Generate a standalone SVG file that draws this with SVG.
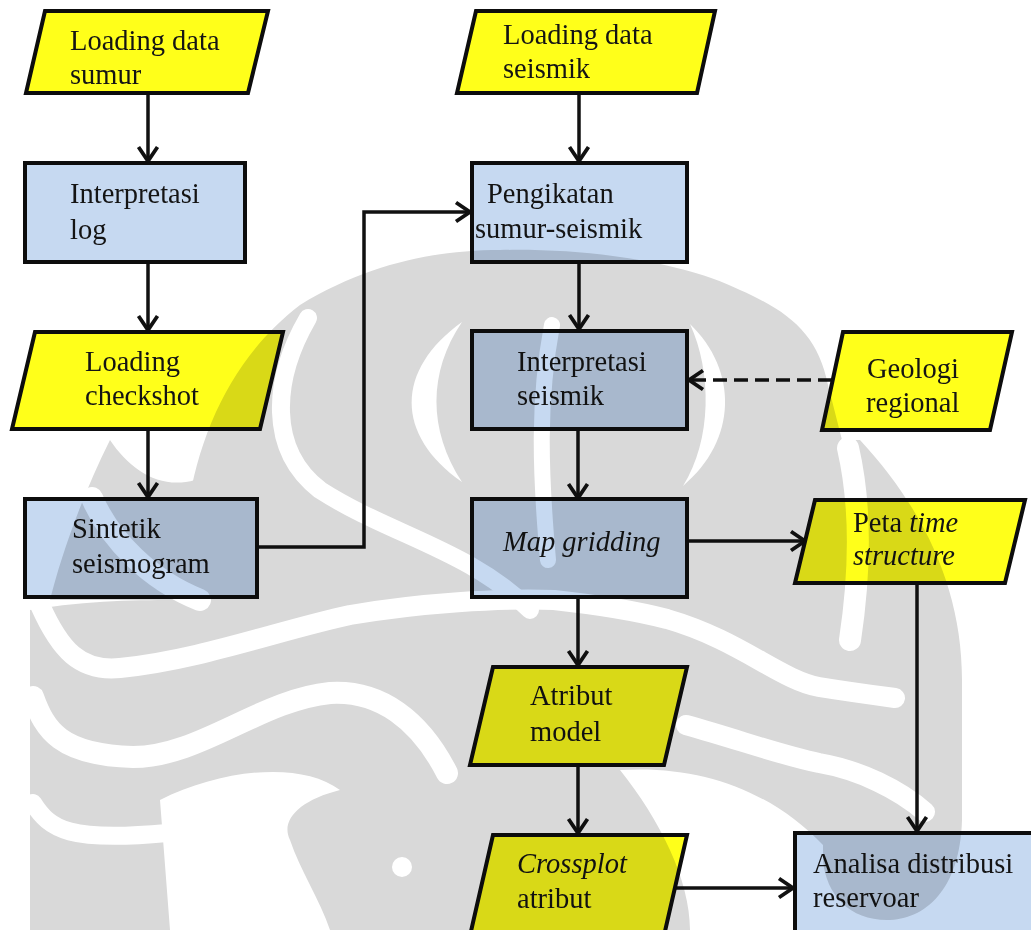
<svg xmlns="http://www.w3.org/2000/svg" width="1031" height="930" viewBox="0 0 1031 930">
<style>
.t{font-family:"Liberation Serif","Times New Roman",serif;font-size:28.5px;fill:#141414}
.it{font-style:italic}
.y{fill:#ffff1a;stroke:#0d0d0d;stroke-width:4;stroke-linejoin:miter}
.b{fill:#c6d9f1;stroke:#0d0d0d;stroke-width:4}
.c{fill:none;stroke:#111;stroke-width:3.5;marker-end:url(#ah)}
.d{stroke-dasharray:14 7}
.wg{fill:#d9d9d9}
.ww{fill:none;stroke:#fff;stroke-linecap:round}
</style>
<defs>
<marker id="ah" viewBox="-3 -3 22 25" markerWidth="22" markerHeight="25" refX="15" refY="9.5" orient="auto" markerUnits="userSpaceOnUse">
<path d="M1,0 L15,9.5 L1,19" fill="none" stroke="#111" stroke-width="3.8" stroke-linejoin="miter"/>
</marker>
</defs>
<rect width="1031" height="930" fill="#fff"/>

<g id="connectors">
<path class="c" d="M148,94 V161"/>
<path class="c" d="M148,262 V330"/>
<path class="c" d="M148,430 V497"/>
<path class="c" d="M257,547 H364 V212 H470"/>
<path class="c" d="M579,94 V161"/>
<path class="c" d="M579,262 V329"/>
<path class="c" d="M578,429 V498"/>
<path class="c" d="M687,541 H805"/>
<path class="c" d="M578,597 V665"/>
<path class="c" d="M578,765 V833"/>
<path class="c" d="M676,888 H793"/>
<path class="c" d="M917,583 V831"/>
<path class="c d" d="M832,380 H689"/>
</g>

<g id="n-loading-sumur">
<polygon class="y" points="45,11 268,11 248,93 26,93"/>
<text class="t" x="70" y="50">Loading data</text>
<text class="t" x="70" y="84">sumur</text>
</g>
<g id="n-interpretasi-log">
<rect class="b" x="25" y="163" width="220" height="99"/>
<text class="t" x="70" y="203">Interpretasi</text>
<text class="t" x="70" y="239">log</text>
</g>
<g id="n-loading-checkshot">
<polygon class="y" points="35,332 283,332 260,429 12,429"/>
<text class="t" x="85" y="371">Loading</text>
<text class="t" x="85" y="405">checkshot</text>
</g>
<g id="n-sintetik">
<rect class="b" x="25" y="499" width="232" height="98"/>
<text class="t" x="72" y="538">Sintetik</text>
<text class="t" x="72" y="573">seismogram</text>
</g>
<g id="n-loading-seismik">
<polygon class="y" points="476,11 715,11 697,93 457,93"/>
<text class="t" x="503" y="44">Loading data</text>
<text class="t" x="503" y="78">seismik</text>
</g>
<g id="n-pengikatan">
<rect class="b" x="472" y="163" width="215" height="99"/>
<text class="t" x="487" y="203">Pengikatan</text>
<text class="t" x="475" y="238">sumur-seismik</text>
</g>
<g id="n-interpretasi-seismik">
<rect class="b" x="472" y="331" width="215" height="98"/>
<text class="t" x="517" y="371">Interpretasi</text>
<text class="t" x="517" y="405">seismik</text>
</g>
<g id="n-geologi">
<polygon class="y" points="843,332 1012,332 990,430 822,430"/>
<text class="t" x="867" y="378">Geologi</text>
<text class="t" x="866" y="412">regional</text>
</g>
<g id="n-map-gridding">
<rect class="b" x="472" y="499" width="215" height="98"/>
<text class="t it" x="503" y="551">Map gridding</text>
</g>
<g id="n-peta">
<polygon class="y" points="815,500 1025,500 1005,583 795,583"/>
<text class="t" x="853" y="532">Peta <tspan class="it">time</tspan></text>
<text class="t it" x="853" y="565">structure</text>
</g>
<g id="n-atribut-model">
<polygon class="y" points="493,667 687,667 664,765 470,765"/>
<text class="t" x="530" y="705">Atribut</text>
<text class="t" x="530" y="741">model</text>
</g>
<g id="n-crossplot">
<polygon class="y" points="493,835 687,835 663,940 469,940"/>
<text class="t it" x="517" y="873">Crossplot</text>
<text class="t" x="517" y="908">atribut</text>
</g>
<g id="n-analisa">
<rect class="b" x="795" y="833" width="245" height="110"/>
<text class="t" x="813" y="873">Analisa distribusi</text>
<text class="t" x="813" y="907">reservoar</text>
</g>

<g id="watermark" style="mix-blend-mode:multiply">
<path class="wg" d="M30,610 C90,600 140,600 183,600 C178,480 215,370 300,305 C370,262 440,250 500,250 C600,248 690,265 740,290 C790,312 818,335 828,385 L842,440 L860,440 C925,510 962,590 962,680 L962,820 C960,890 925,920 887,920 C850,920 826,895 823,860 L800,930 L30,930 Z"/>
<path class="wg" d="M110,440 C130,470 160,490 195,480 L190,600 L50,600 C60,560 80,500 110,440 Z"/>
<path class="ww" stroke-width="22" d="M92,498 C110,540 150,580 200,600"/>
<path class="ww" stroke-width="18" d="M308,318 C272,380 268,450 320,490 C390,535 470,550 530,610"/>
<path d="M462,322 C395,370 395,435 462,482 C428,430 428,372 462,322 Z" fill="#fff"/>
<path class="ww" stroke-width="16" d="M552,325 C538,400 540,470 548,560"/>
<path d="M690,324 C738,370 738,440 683,486 C712,440 712,372 690,324 Z" fill="#fff"/>
<path class="ww" stroke-width="22" d="M848,448 C860,500 862,560 850,640"/>
<path class="ww" stroke-width="20" d="M40,605 C60,650 80,672 120,668 C200,660 280,630 350,615 C420,603 500,598 554,600 C600,605 640,612 667,619 C740,640 780,680 819,687 C850,692 880,696 895,698"/>
<path class="ww" stroke-width="22" d="M33,697 C45,730 60,755 133,757 C200,757 260,700 330,693 C380,690 420,720 447,773"/>
<path class="ww" stroke-width="20" d="M686,725 C740,740 780,755 819,763 C860,770 900,790 925,812"/>
<path class="ww" stroke-width="18" d="M33,803 C50,830 70,842 167,833"/>
<path d="M160,800 C220,770 300,760 340,790 C300,800 280,820 290,840 C300,870 320,900 330,930 L170,930 Z" fill="#fff"/>
<circle cx="402" cy="867" r="10" fill="#fff"/>
<path d="M620,770 C700,765 770,790 823,845 L823,930 L690,930 C690,880 660,820 620,770 Z" fill="#fff"/>
</g>
</svg>
